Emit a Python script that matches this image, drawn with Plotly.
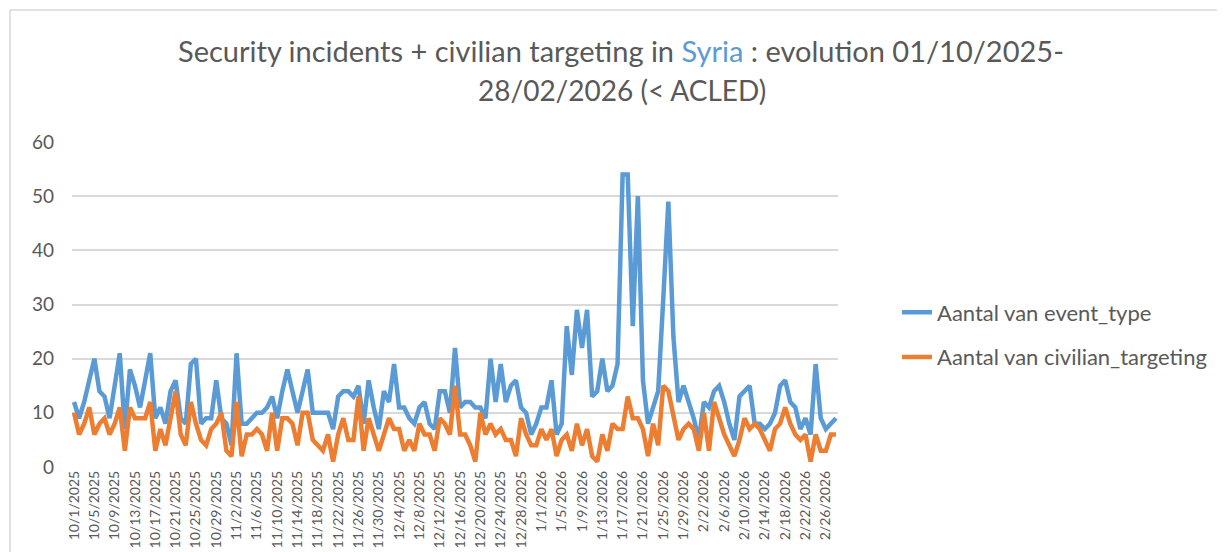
import pandas as pd
import plotly.graph_objects as go

# ---- data ----
dates = pd.date_range("2025-10-01", "2026-02-28", freq="D")
categories = [f"{d.month}/{d.day}/{d.year}" for d in dates]

event_type = [
    12, 9, 12, 16, 20, 14, 13, 9, 15, 21,
    7, 18, 15, 11, 16, 21, 9, 11, 8, 14,
    16, 9, 8, 19, 20, 8, 9, 9, 16, 9,
    8, 4, 21, 8, 8, 9, 10, 10, 11, 13,
    9, 14, 18, 14, 10, 14, 18, 10, 10, 10,
    10, 7, 13, 14, 14, 13, 15, 8, 16, 11,
    7, 14, 12, 19, 11, 11, 9, 8, 11, 12,
    8, 7, 14, 14, 10, 22, 11, 12, 12, 11,
    11, 9, 20, 12, 19, 12, 15, 16, 11, 10,
    6, 8, 11, 11, 16, 6, 8, 26, 17, 29,
    22, 29, 13, 14, 20, 14, 15, 19, 54, 54,
    26, 50, 16, 8, 11, 14, 31, 49, 24, 12,
    15, 12, 9, 5, 12, 11, 14, 15, 12, 8,
    5, 13, 14, 15, 8, 8, 7, 8, 10, 15,
    16, 12, 11, 7, 9, 6, 19, 9, 7, 8,
    9,
]

civilian_targeting = [
    10, 6, 8, 11, 6, 8, 9, 6, 8, 11,
    3, 11, 9, 9, 9, 12, 3, 7, 4, 9,
    14, 6, 4, 12, 8, 5, 4, 7, 8, 10,
    3, 2, 12, 2, 6, 6, 7, 6, 3, 10,
    3, 9, 9, 8, 4, 10, 10, 5, 4, 3,
    6, 1, 6, 9, 5, 5, 13, 3, 9, 6,
    3, 6, 9, 7, 7, 3, 5, 3, 8, 6,
    6, 3, 9, 8, 6, 15, 6, 6, 4, 1,
    10, 6, 8, 6, 7, 5, 5, 2, 9, 6,
    4, 4, 7, 5, 7, 2, 5, 6, 3, 8,
    4, 7, 2, 1, 6, 3, 8, 7, 7, 13,
    9, 9, 7, 2, 8, 4, 15, 14, 9, 5,
    7, 8, 7, 3, 10, 3, 12, 9, 6, 4,
    2, 5, 9, 7, 8, 7, 5, 3, 7, 8,
    11, 8, 6, 5, 6, 1, 6, 3, 3, 6,
    6,
]

tick_labels = [
    "10/1/2025", "10/5/2025", "10/9/2025", "10/13/2025", "10/17/2025",
    "10/21/2025", "10/25/2025", "10/29/2025", "11/2/2025", "11/6/2025",
    "11/10/2025", "11/14/2025", "11/18/2025", "11/22/2025", "11/26/2025",
    "11/30/2025", "12/4/2025", "12/8/2025", "12/12/2025", "12/16/2025",
    "12/20/2025", "12/24/2025", "12/28/2025", "1/1/2026", "1/5/2026",
    "1/9/2026", "1/13/2026", "1/17/2026", "1/21/2026", "1/25/2026",
    "1/29/2026", "2/2/2026", "2/6/2026", "2/10/2026", "2/14/2026",
    "2/18/2026", "2/22/2026", "2/26/2026",
]
y_ticks = [0, 10, 20, 30, 40, 50, 60]

series_names = ["Aantal van event_type", "Aantal van civilian_targeting"]
title_line1 = ("Security incidents + civilian targeting in "
               "<span style='color:#5B9BD5'>Syria</span> : evolution 01/10/2025-")
title_line2 = "28/02/2026 (< ACLED)"

BLUE = "#5B9BD5"
ORANGE = "#ED7D31"
GRAY_TXT = "#595959"
GRID = "#D9D9D9"
FONT = "Lato"

W, H = 1225, 552
OFF = 8  # page body margin offset
# desired on-screen plot area: x 72..838, y 142..467
L = 72 - OFF
R = W - (838 - OFF)
T = 142 - OFF
B = H - (467 - OFF)
pw, ph = W - L - R, H - T - B


def px_x(x):  # screen px -> paper x
    return (x - OFF - L) / pw


def px_y(y):  # screen px -> paper y
    return (H - B - (y - OFF)) / ph


fig = go.Figure()
fig.add_trace(go.Scatter(
    x=categories, y=event_type, name=series_names[0], mode="lines",
    line=dict(color=BLUE, width=4.5), legendgroup="a",
))
fig.add_trace(go.Scatter(
    x=categories, y=civilian_targeting, name=series_names[1], mode="lines",
    line=dict(color=ORANGE, width=4.5), legendgroup="b",
))

fig.update_layout(
    width=W, height=H,
    margin=dict(l=L, r=R, t=T, b=B, autoexpand=False),
    paper_bgcolor="white", plot_bgcolor="white",
    font=dict(family=FONT, color=GRAY_TXT),
    title=dict(text=title_line1, x=(621 - OFF) / W, xanchor="center",
               y=1 - (52 - OFF) / H, yanchor="middle",
               font=dict(family=FONT, size=29, color=GRAY_TXT)),
    showlegend=True,
    legend=dict(x=px_x(897), xanchor="left", y=px_y(335), yanchor="middle",
                font=dict(size=22, color=GRAY_TXT), traceorder="grouped",
                tracegroupgap=13, bgcolor="rgba(0,0,0,0)"),
    xaxis=dict(type="category", categoryorder="array", categoryarray=categories,
               range=[-0.4, len(categories) - 0.6],
               tickmode="array", tickvals=tick_labels, ticktext=tick_labels,
               tickangle=-90, tickfont=dict(size=14, color=GRAY_TXT),
               showgrid=False, zeroline=False, showline=False, ticks=""),
    yaxis=dict(range=[0, 60], tickmode="array", tickvals=y_ticks,
               tickfont=dict(size=19, color=GRAY_TXT),
               showgrid=True, gridcolor=GRID, gridwidth=1.5,
               zeroline=False, showline=False, ticks="", ticklabelstandoff=17),
    annotations=[dict(text=title_line2, xref="paper", yref="paper",
                      x=px_x(622), y=px_y(90), xanchor="center", yanchor="middle",
                      showarrow=False,
                      font=dict(family=FONT, size=28, color=GRAY_TXT))],
    shapes=[dict(type="rect", xref="paper", yref="paper",
                 x0=px_x(10), x1=px_x(1221), y0=px_y(640), y1=px_y(10),
                 line=dict(color=GRID, width=1.5), fillcolor="rgba(0,0,0,0)",
                 layer="below")],
)

fig.write_html("out.html")
